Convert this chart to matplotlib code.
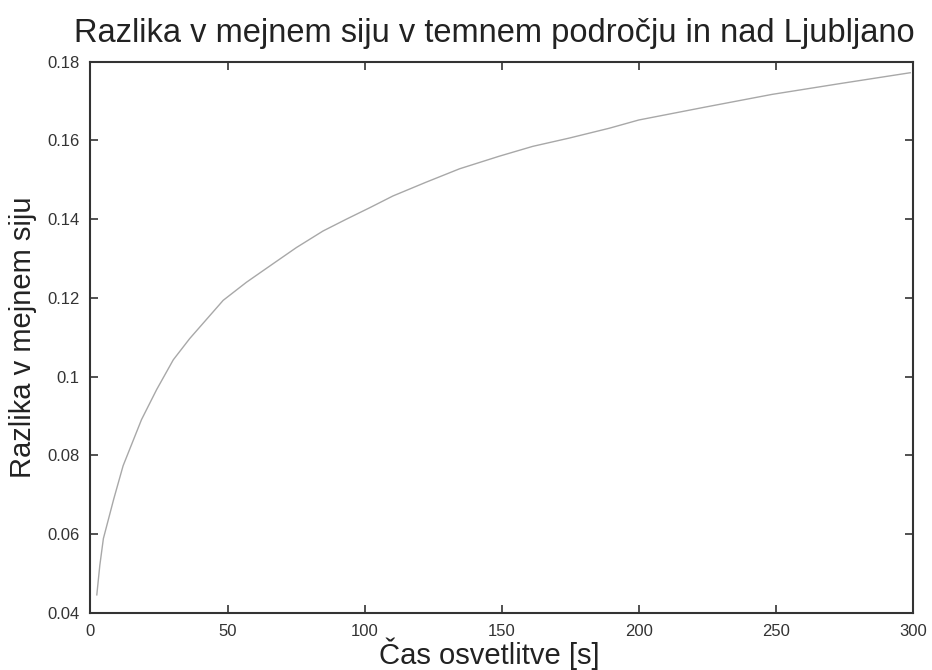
import matplotlib.pyplot as plt

plt.rcParams["font.family"] = ["Liberation Sans", "DejaVu Sans"]

# odčitane vrednosti s slike
cas = [2.3, 3.4, 4.7, 8.5, 11.9, 18.6, 24.1, 30.2, 36.2, 48.4, 56.9, 66.6,
       75.1, 84.8, 93.3, 101.8, 110.3, 122.4, 134.6, 149.1, 161.3, 174.6,
       189.2, 200, 224.4, 248.6, 273, 299]
razlika = [0.0446, 0.0521, 0.0589, 0.069, 0.0774, 0.0891, 0.0967, 0.1043,
           0.1097, 0.1194, 0.124, 0.1287, 0.1328, 0.137, 0.140, 0.1429,
           0.1459, 0.1494, 0.1528, 0.156, 0.1585, 0.1606, 0.1631, 0.1652,
           0.1685, 0.1717, 0.1744, 0.1772]

x_ticks = [0, 50, 100, 150, 200, 250, 300]
y_ticks = [0.04, 0.06, 0.08, 0.1, 0.12, 0.14, 0.16, 0.18]
y_labels = ["0.04", "0.06", "0.08", "0.1", "0.12", "0.14", "0.16", "0.18"]

fig = plt.figure(figsize=(9.32, 6.7), dpi=100)
ax = fig.add_axes([0.0971, 0.0851, 0.8825, 0.8228])

ax.plot(cas, razlika, color="#a8a8a8", linewidth=1.0)

ax.set_xlim(0, 300)
ax.set_ylim(0.04, 0.18)
ax.set_xticks(x_ticks)
ax.set_yticks(y_ticks)
ax.set_yticklabels(y_labels)
ax.tick_params(direction="in", top=True, right=True, length=6, width=1.2,
               labelsize=12, pad=8, colors="#333333")
for s in ax.spines.values():
    s.set_linewidth(1.5)
    s.set_color("#333333")

ax.set_title("Razlika v mejnem siju v temnem področju in nad Ljubljano",
             fontsize=23.5, pad=14, color="#222222", x=0.491)
ax.set_xlabel("Čas osvetlitve [s]", fontsize=21, labelpad=-1, color="#222222",
              x=0.485)
ax.set_ylabel("Razlika v mejnem siju", fontsize=21, labelpad=7, color="#222222")

fig.savefig("out.png", dpi=100)
